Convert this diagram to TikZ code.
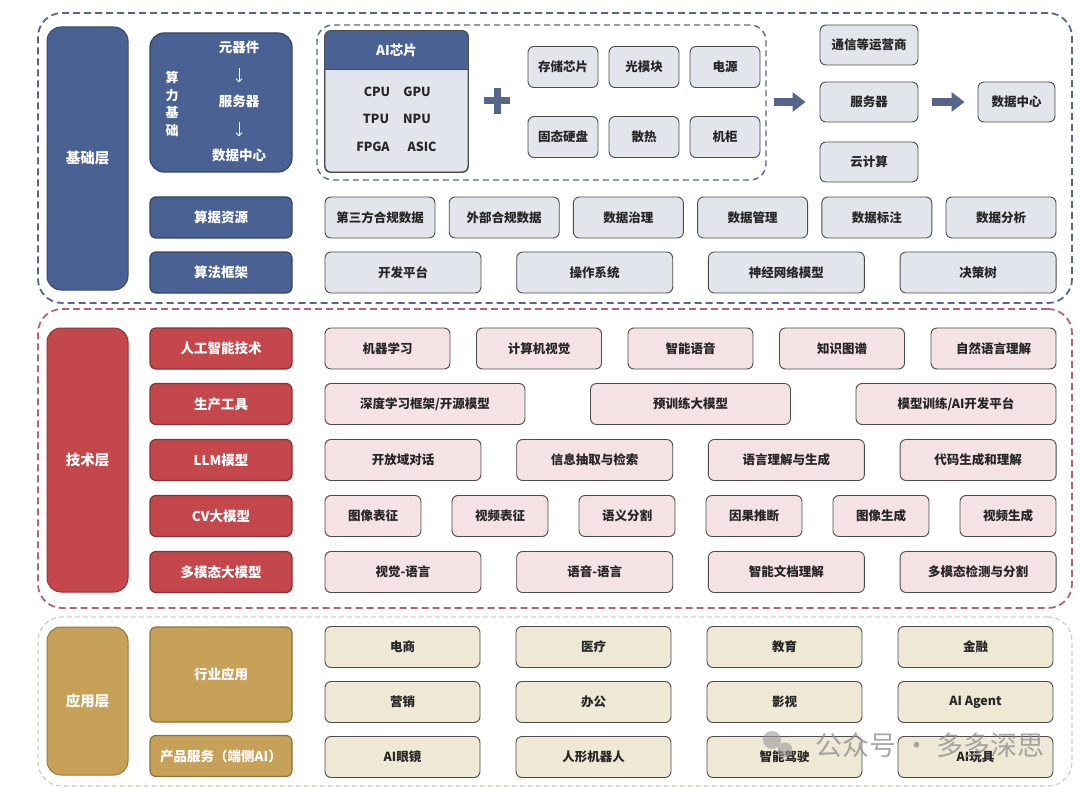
\documentclass[tikz,border=0pt]{standalone}
\usepackage{fontspec}
\setmainfont{Noto Sans CJK SC}
\usetikzlibrary{arrows.meta}
\definecolor{jcblue}{HTML}{4A6194}
\definecolor{jcbluel}{HTML}{E2E5EC}
\definecolor{jsred}{HTML}{C4474C}
\definecolor{jsredl}{HTML}{F4E2E4}
\definecolor{yygold}{HTML}{C7A157}
\definecolor{yygoldl}{HTML}{EEE8D4}
\definecolor{dashblue}{HTML}{56668A}
\definecolor{dashred}{HTML}{B46274}
\definecolor{dashgold}{HTML}{D3CEC4}
\definecolor{arrowgray}{HTML}{56668A}
\newcommand\boxfont{\fontsize{12.5}{14}\selectfont\bfseries}
\newcommand\headfont{\fontsize{13.5}{16}\selectfont\bfseries}
\newcommand\tallfont{\fontsize{14.5}{17}\selectfont\bfseries}
% one row of boxes: prefix, y, width, pitch, style, labels
\newcommand{\boxrow}[6]{%
  \foreach \t [count=\i] in {#6}
    \node[#5, minimum width=#3] (#1\i) at ({325+#3/2+(\i-1)*#4},#2) {\t};
}
\begin{document}
\begin{tikzpicture}[x=1pt,y=-1pt,
  every node/.style={font=\boxfont, inner sep=0pt},
  layer/.style={draw=#1, line width=1.8pt, dash pattern=on 7pt off 4pt, rounded corners=24pt},
  tallbox/.style={fill=#1, draw=#1!75!black, line width=1pt, rounded corners=14pt, minimum width=81, text=white, font=\tallfont},
  headbox/.style={fill=#1, draw=#1!70!black, line width=1.2pt, rounded corners=6pt, minimum width=142, minimum height=41, text=white, font=\headfont},
  itembox/.style={fill=#1, draw=black!70, line width=0.9pt, rounded corners=6pt, minimum height=41, text=black!85},
  bigarrow/.style={draw=arrowgray, line width=8pt, -{Triangle[length=13pt,width=19pt]}},
]
\useasboundingbox (0,0) rectangle (1080,797);
% layers
\node[layer=dashblue, minimum width=1034, minimum height=290] (jc) at (555,158) {};
\node[layer=dashred, minimum width=1034, minimum height=299] (js) at (555,458.5) {};
\node[layer=dashgold, line width=1.2pt, dash pattern=on 5pt off 3pt, minimum width=1034, minimum height=169] (yy) at (555,701.5) {};
\node[tallbox=jcblue, minimum height=263] (jcc) at (87.5,158.5) {基础层};
\node[tallbox=jsred, minimum height=264] (jsc) at (87.5,460) {技术层};
\node[tallbox=yygold, minimum height=148] (yyc) at (87.5,701) {应用层};

% compute base
\node[headbox=jcblue, minimum height=139, rounded corners=14pt] (slj) at (221,102.5) {};
\node[text=white, font=\fontsize{13}{17.5}\selectfont\bfseries, align=center] (sljt) at (172,104) {算\\力\\基\\础};
\node[text=white, font=\headfont] (yqj) at (239,47) {元器件};
\node[text=white, font=\headfont] (fwq1) at (239,101) {服务器};
\node[text=white, font=\headfont] (sjzx1) at (239,155) {数据中心};
\draw[-{Straight Barb[length=3pt]}, white, line width=0.9pt, shorten <=14pt, shorten >=12pt] (yqj) -- (fwq1);
\draw[-{Straight Barb[length=3pt]}, white, line width=0.9pt, shorten <=14pt, shorten >=12pt] (fwq1) -- (sjzx1);

\node[draw=dashblue, line width=1.4pt, dash pattern=on 6pt off 4pt, rounded corners=16pt, minimum width=449, minimum height=155] (grp) at (541.5,102.5) {};
\node[itembox=jcbluel, minimum width=143, minimum height=141] (aichip) at (396.5,101.5) {};
\begin{scope}
\clip[rounded corners=6pt] (aichip.north west) rectangle (aichip.south east);
\fill[jcblue] (aichip.north west) rectangle ([yshift=-39pt]aichip.north east);
\end{scope}
\draw[black!70, line width=0.9pt, rounded corners=6pt] (aichip.north west) rectangle (aichip.south east);
\draw[black!70, line width=0.9pt] ([yshift=-39pt]aichip.north west) -- ([yshift=-39pt]aichip.north east);
\node[text=white, font=\headfont] (aichipt) at ([yshift=-19.5pt]aichip.north) {AI芯片};
\foreach \t/\px/\py in {CPU/377/92, GPU/417/92, TPU/376/119, NPU/417/119, FPGA/373/147, ASIC/422/147}
  \node[text=black!85] (\t) at (\px,\py) {\t};
\draw[arrowgray, line width=7pt] (484,101) -- (510,101) (497,88) -- (497,114);
\foreach \t/\px/\py [count=\i] in {存储芯片/563/67, 光模块/644/67, 电源/725/67, 固态硬盘/563/137, 散热/644/137, 机柜/725/137}
  \node[itembox=jcbluel, minimum width=70] (pj\i) at (\px,\py) {\t};
\node[itembox=jcbluel, minimum width=98, minimum height=40] (yys) at (869,45) {通信等运营商};
\node[itembox=jcbluel, minimum width=98, minimum height=40] (fwq2) at (869,102) {服务器};
\node[itembox=jcbluel, minimum width=98, minimum height=40] (yjs) at (869,162) {云计算};
\node[itembox=jcbluel, minimum width=77, minimum height=40] (sjzx2) at (1016.5,102) {数据中心};
\draw[bigarrow, shorten <=7pt, shorten >=14pt] (grp.east |- fwq2.west) -- (fwq2.west);
\draw[bigarrow, shorten <=14pt, shorten >=13pt] (fwq2) -- (sjzx2);

% row headers
\node[headbox=jcblue] (sjzy) at (221,217.5) {算据资源};
\node[headbox=jcblue] (sfkj) at (221,272.5) {算法框架};
\node[headbox=jsred] (rgzn) at (221,348.5) {人工智能技术};
\node[headbox=jsred] (scgj) at (221,404) {生产工具};
\node[headbox=jsred] (llm) at (221,460) {LLM模型};
\node[headbox=jsred] (cvm) at (221,516) {CV大模型};
\node[headbox=jsred] (dmt) at (221,572) {多模态大模型};
\node[headbox=yygold, minimum height=95] (hyyy) at (221,674.5) {行业应用};
\node[headbox=yygold] (cpfw) at (221,756) {产品服务（端侧AI）};

% rows
\boxrow{sj}{217.5}{110}{124.2}{itembox=jcbluel}{第三方合规数据,外部合规数据,数据治理,数据管理,数据标注,数据分析}
\boxrow{sf}{272.5}{156}{191.7}{itembox=jcbluel}{开发平台,操作系统,神经网络模型,决策树}
\boxrow{rg}{348.5}{125}{151.5}{itembox=jsredl}{机器学习,计算机视觉,智能语音,知识图谱,自然语言理解}
\boxrow{sc}{404}{200}{265.5}{itembox=jsredl}{深度学习框架/开源模型,预训练大模型,模型训练/AI开发平台}
\boxrow{ll}{460}{156}{191.7}{itembox=jsredl}{开放域对话,信息抽取与检索,语言理解与生成,代码生成和理解}
\boxrow{cv}{516}{96}{127}{itembox=jsredl}{图像表征,视频表征,语义分割,因果推断,图像生成,视频生成}
\boxrow{dm}{572}{156}{191.7}{itembox=jsredl}{视觉-语言,语音-语言,智能文档理解,多模态检测与分割}
\boxrow{hy}{647}{155}{191}{itembox=yygoldl}{电商,医疗,教育,金融}
\boxrow{hb}{702}{155}{191}{itembox=yygoldl}{营销,办公,影视,AI Agent}
\boxrow{cp}{757}{155}{191}{itembox=yygoldl}{AI眼镜,人形机器人,智能驾驶,AI玩具}

% watermark
\fill[black!40, opacity=0.6] (772,740) circle (9pt) (785,750) circle (7.5pt);
\node[text=black!45, opacity=0.75, font=\fontsize{27}{30}\selectfont] (wm) at (930,745) {公众号 · 多多深思};
\end{tikzpicture}
\end{document}
